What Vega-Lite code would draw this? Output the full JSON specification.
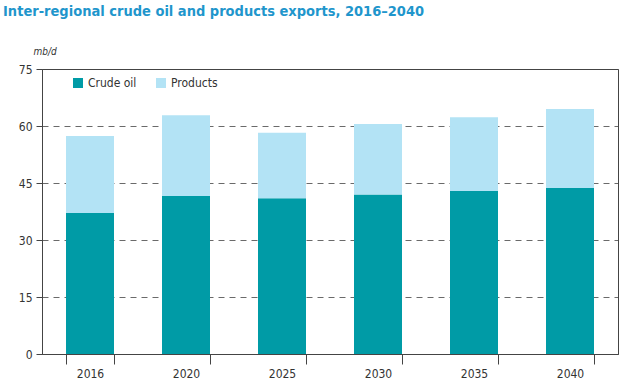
{
  "$schema": "https://vega.github.io/schema/vega-lite/v6.json",
  "autosize": "none",
  "width": 576,
  "height": 285,
  "padding": {"left": 42, "top": 69, "right": 8, "bottom": 34},
  "background": "white",
  "title": {
    "text": "Inter-regional crude oil and products exports, 2016–2040",
    "anchor": "start",
    "frame": "group",
    "dx": -39,
    "offset": 27,
    "font": "DejaVu Sans Condensed",
    "fontSize": 14.5,
    "fontWeight": "bold",
    "color": "#1f96cc"
  },
  "config": {
    "view": {"stroke": "#444", "strokeWidth": 1},
    "font": "DejaVu Sans Condensed"
  },
  "data": {
    "values": [
      {"year": "2016", "type": "Crude oil", "value": 37.1},
      {"year": "2016", "type": "Products", "value": 20.3},
      {"year": "2020", "type": "Crude oil", "value": 41.6},
      {"year": "2020", "type": "Products", "value": 21.2},
      {"year": "2025", "type": "Crude oil", "value": 41.0},
      {"year": "2025", "type": "Products", "value": 17.2},
      {"year": "2030", "type": "Crude oil", "value": 42.0},
      {"year": "2030", "type": "Products", "value": 18.5},
      {"year": "2035", "type": "Crude oil", "value": 42.9},
      {"year": "2035", "type": "Products", "value": 19.4},
      {"year": "2040", "type": "Crude oil", "value": 43.7},
      {"year": "2040", "type": "Products", "value": 20.8}
    ]
  },
  "mark": {"type": "bar"},
  "encoding": {
    "x": {
      "field": "year",
      "type": "ordinal",
      "scale": {"paddingInner": 0.5, "paddingOuter": 0.25},
      "axis": {
        "title": null,
        "labelAngle": 0,
        "labelFontSize": 12,
        "labelColor": "#333",
        "labelPadding": 4,
        "tickBand": "extent",
        "tickSize": 10,
        "tickColor": "#444",
        "domainColor": "#444"
      }
    },
    "y": {
      "field": "value",
      "type": "quantitative",
      "stack": "zero",
      "scale": {"domain": [0, 75]},
      "axis": {
        "values": [0, 15, 30, 45, 60, 75],
        "title": "mb/d",
        "titleAngle": 0,
        "titleFontStyle": "italic",
        "titleFontWeight": "normal",
        "titleFontSize": 10,
        "titleColor": "#333",
        "titleAlign": "left",
        "titleBaseline": "bottom",
        "titleX": -9,
        "titleY": -13,
        "labelFontSize": 12,
        "labelColor": "#333",
        "labelPadding": 4,
        "tickSize": 6,
        "tickColor": "#444",
        "domainColor": "#444",
        "grid": true,
        "gridColor": "#444",
        "gridDash": [6, 5],
        "gridWidth": 0.8
      }
    },
    "color": {
      "field": "type",
      "type": "nominal",
      "scale": {"domain": ["Crude oil", "Products"], "range": ["#009ba6", "#b3e3f5"]},
      "legend": {
        "title": null,
        "orient": "none",
        "legendX": 30,
        "legendY": 8,
        "direction": "horizontal",
        "symbolType": "square",
        "symbolSize": 100,
        "symbolStrokeWidth": 0,
        "labelFontSize": 12,
        "labelColor": "#333",
        "columnPadding": 18
      }
    },
    "order": {"field": "type", "sort": "ascending"}
  }
}
